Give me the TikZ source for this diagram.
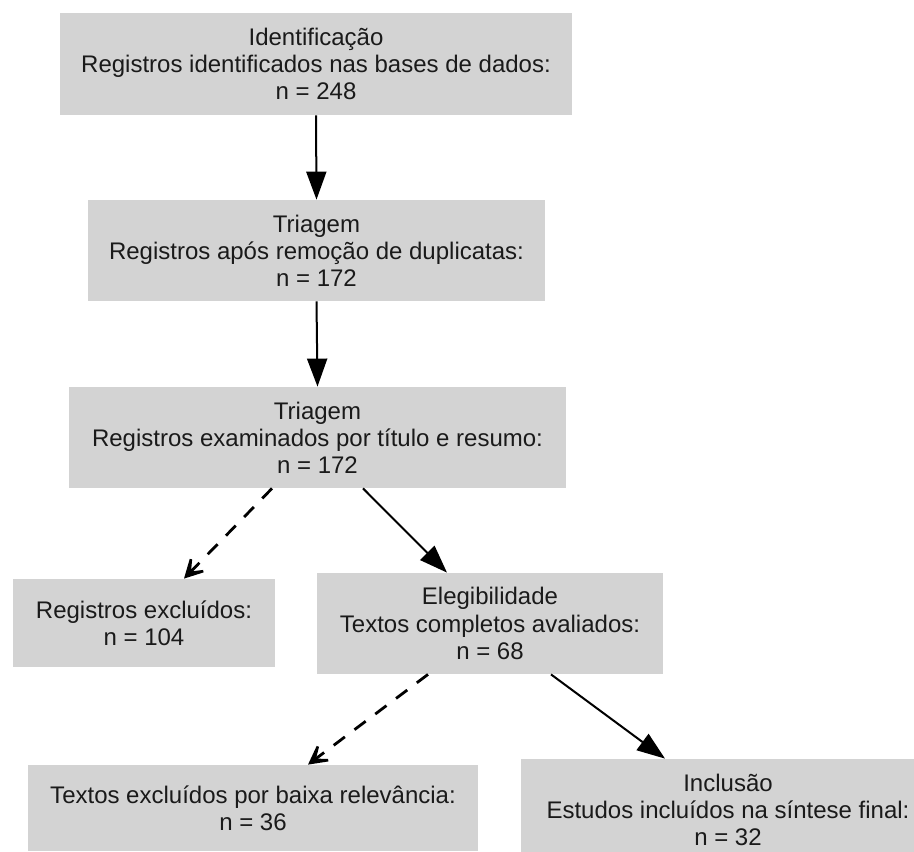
\documentclass[tikz,border=0pt]{standalone}
\usepackage{fontspec}
\setmainfont{Liberation Sans}
\usetikzlibrary{arrows.meta}
\definecolor{boxgray}{HTML}{D3D3D3}
\definecolor{txtgray}{HTML}{1A1A1A}
\begin{document}
\begin{tikzpicture}[x=0.5pt,y=-0.5pt,
  box/.style={fill=boxgray,draw=none,align=center,inner sep=0pt,text=txtgray,
    font=\fontsize{12}{13.6}\selectfont},
  solidarrow/.style={line width=1pt,-{Triangle[length=14pt,width=10pt]}},
  dasharrow/.style={line width=1.4pt,dash pattern=on 7pt off 6pt,
    -{Stealth[length=15pt,width=16pt,inset=10pt]}}]
\useasboundingbox (0,0) rectangle (914,851);
\clip (0,0) rectangle (914,851);
\node[box,minimum width=256pt,minimum height=51pt] (b1) at (316,64)
  {Identificação\\Registros identificados nas bases de dados:\\n = 248};
\node[box,minimum width=228.5pt,minimum height=50.5pt] (b2) at (316.5,250.5)
  {Triagem\\Registros após remoção de duplicatas:\\n = 172};
\node[box,minimum width=248.5pt,minimum height=50.5pt] (b3) at (317.5,437.5)
  {Triagem\\Registros examinados por título e resumo:\\n = 172};
\node[box,minimum width=131pt,minimum height=44pt] (b4) at (144,623)
  {Registros excluídos:\\n = 104};
\node[box,minimum width=173pt,minimum height=50.5pt] (b5) at (490,623.5)
  {Elegibilidade\\Textos completos avaliados:\\n = 68};
\node[box,minimum width=225pt,minimum height=43pt] (b6) at (253,808)
  {Textos excluídos por baixa relevância:\\n = 36};
\node[box,minimum width=207pt,minimum height=51pt] (b7) at (728,810)
  {Inclusão\\Estudos incluídos na síntese final:\\n = 32};
\draw[solidarrow] (b1.south) -- (b2.north);
\draw[solidarrow] (b2.south) -- (b3.north);
\draw[dasharrow] ([xshift=-22.75pt]b3.south) -- ([xshift=20pt]b4.north);
\draw[solidarrow] ([xshift=22.75pt]b3.south) -- ([xshift=-21.5pt]b5.north);
\draw[dasharrow] ([xshift=-31pt]b5.south) -- ([xshift=27.5pt]b6.north);
\draw[solidarrow] ([xshift=30.5pt]b5.south) -- ([xshift=-31.5pt]b7.north);
\end{tikzpicture}
\end{document}
